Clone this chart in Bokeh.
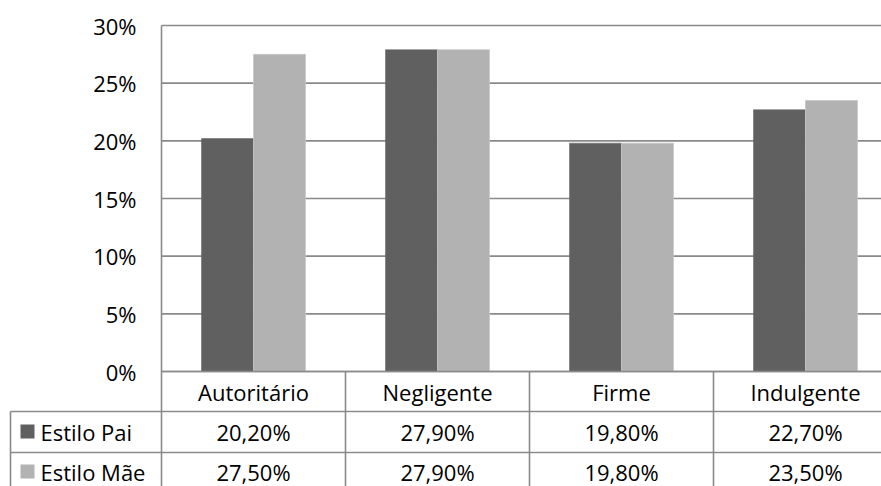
from bokeh.plotting import figure
from bokeh.embed import file_html
from bokeh.resources import INLINE
from bokeh.core.properties import value
from bokeh.models import Range1d

categories = ["Autoritário", "Negligente", "Firme", "Indulgente"]
series_names = ["Estilo Pai", "Estilo Mãe"]
pai = [20.2, 27.9, 19.8, 22.7]
mae = [27.5, 27.9, 19.8, 23.5]
y_ticks = [0, 5, 10, 15, 20, 25, 30]
colors = ["#606060", "#b2b2b2"]

W, H = 881, 486
OX, OY = 0, 0            # page offset of canvas (as observed in the picture)
PLOT_LEFT = 161          # picture x of the value axis
CAT_W = 184.0            # px per category
ZERO_Y = 371             # picture y of 0%
PX_PER = (371 - 25) / 30.0

def px2x(px):
    return (px - PLOT_LEFT) / CAT_W

def py2y(py):
    return (ZERO_Y - py) / PX_PER

x0, x1 = px2x(OX), px2x(OX + W)
y0, y1 = py2y(OY + H), py2y(OY)

p = figure(width=W, height=H, output_backend="svg", toolbar_location=None,
           x_range=Range1d(x0, x1), y_range=Range1d(y0, y1),
           min_border=0, min_border_left=0, min_border_right=0,
           min_border_top=0, min_border_bottom=0)
p.axis.visible = False
p.grid.visible = False
p.outline_line_color = None
p.background_fill_color = "white"
p.border_fill_color = "white"

FONT = value("Open Sans")
FS = "22px"
LC = "#8a8a8a"
LW = 1.6

# gridlines
p.segment(x0=[0] * len(y_ticks), x1=[x1] * len(y_ticks), y0=y_ticks, y1=y_ticks,
          line_color=LC, line_width=LW)

# bars
bw = 52 / CAT_W
xc = [i + 0.5 for i in range(len(categories))]
p.vbar(x=[c - bw / 2 for c in xc], top=pai, width=bw, bottom=0,
       fill_color=colors[0], line_color=colors[0], line_width=0.5)
p.vbar(x=[c + bw / 2 for c in xc], top=mae, width=bw, bottom=0,
       fill_color=colors[1], line_color="#c8c8c8", line_width=0.8)

# y tick labels
p.text(x=[px2x(136)] * len(y_ticks), y=y_ticks, text=[f"{t}%" for t in y_ticks],
       text_align="right", text_baseline="middle", text_font=FONT,
       text_font_size=FS, text_color="#000000")

# table lines
bottom = y0
p.segment(x0=[0, px2x(10), px2x(10)], x1=[x1, x1, x1],
          y0=[0, py2y(411), py2y(452)], y1=[0, py2y(411), py2y(452)],
          line_color=LC, line_width=LW)
vx = [px2x(10), 0, 1, 2, 3]
vt = [py2y(411), 30, 0, 0, 0]
p.segment(x0=vx, x1=vx, y0=vt, y1=[bottom] * len(vx), line_color=LC, line_width=LW)

# header row
p.text(x=xc, y=[py2y(391)] * 4, text=categories, text_align="center",
       text_baseline="middle", text_font=FONT, text_font_size=FS, text_color="#000000")

# rows
row_y = [py2y(431), py2y(471)]
for r, (vals, name) in enumerate(zip([pai, mae], series_names)):
    txt = [f"{v:.2f}%".replace(".", ",") for v in vals]
    p.text(x=xc, y=[row_y[r]] * 4, text=txt, text_align="center",
           text_baseline="middle", text_font=FONT, text_font_size=FS, text_color="#000000")
    p.rect(x=[px2x(27)], y=[row_y[r]], width=14, height=14,
           width_units="screen", height_units="screen",
           fill_color=colors[r], line_color=None)
    p.text(x=[px2x(40)], y=[row_y[r]], text=[name], text_align="left",
           text_baseline="middle", text_font=FONT, text_font_size=FS, text_color="#000000")

open("out.html", "w").write(file_html(p, INLINE))
